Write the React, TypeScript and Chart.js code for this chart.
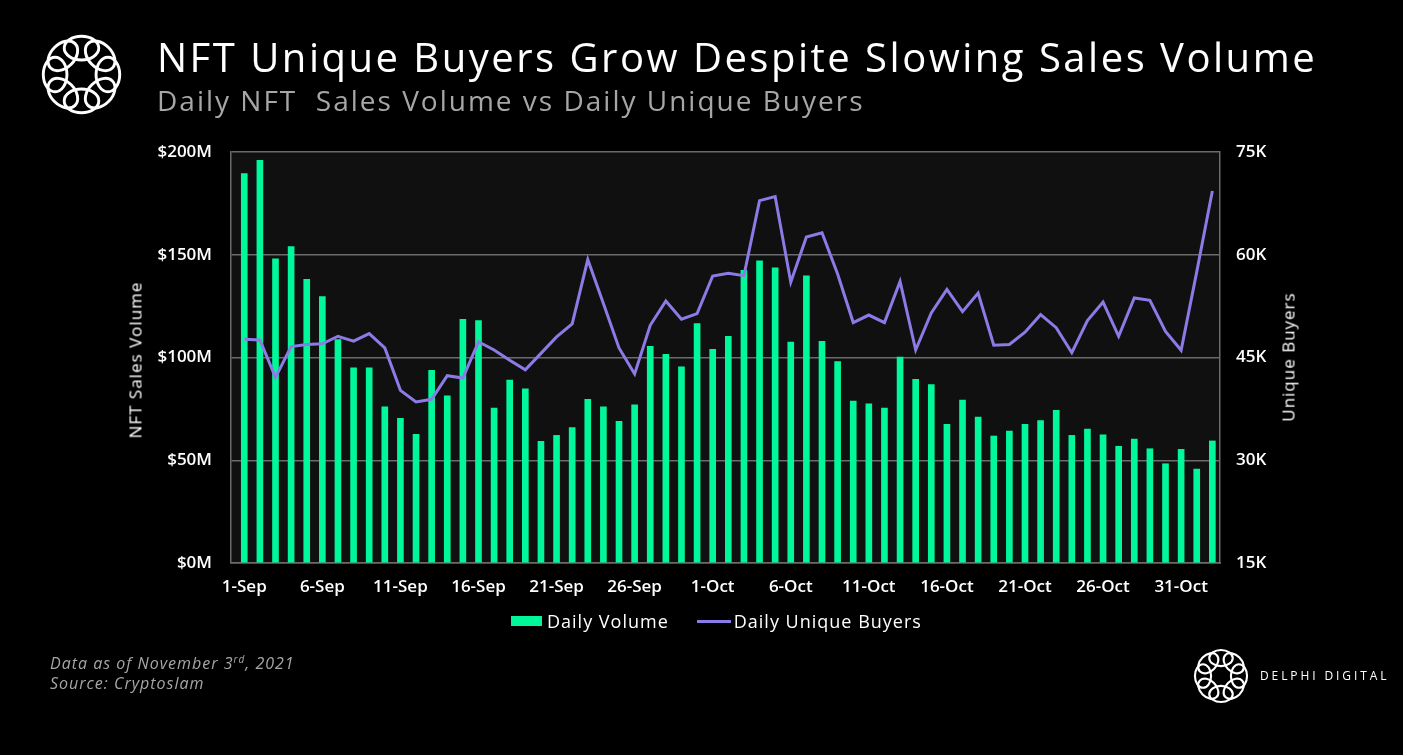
import React, { useEffect, useRef } from "react";
import { Chart, registerables } from "chart.js";

Chart.register(...registerables);

const dates: string[] = [
  "1-Sep", "2-Sep", "3-Sep", "4-Sep", "5-Sep", "6-Sep", "7-Sep", "8-Sep", "9-Sep", "10-Sep",
  "11-Sep", "12-Sep", "13-Sep", "14-Sep", "15-Sep", "16-Sep", "17-Sep", "18-Sep", "19-Sep", "20-Sep",
  "21-Sep", "22-Sep", "23-Sep", "24-Sep", "25-Sep", "26-Sep", "27-Sep", "28-Sep", "29-Sep", "30-Sep",
  "1-Oct", "2-Oct", "3-Oct", "4-Oct", "5-Oct", "6-Oct", "7-Oct", "8-Oct", "9-Oct", "10-Oct",
  "11-Oct", "12-Oct", "13-Oct", "14-Oct", "15-Oct", "16-Oct", "17-Oct", "18-Oct", "19-Oct", "20-Oct",
  "21-Oct", "22-Oct", "23-Oct", "24-Oct", "25-Oct", "26-Oct", "27-Oct", "28-Oct", "29-Oct", "30-Oct",
  "31-Oct", "1-Nov", "2-Nov",
];

// Daily NFT sales volume, $M
const dailyVolume: number[] = [
  189.5, 196, 148, 154, 138, 129.6, 108.7, 95, 95, 76,
  70.4, 62.6, 93.8, 81.4, 118.6, 118, 75.4, 89, 84.7, 59.2,
  62.1, 65.9, 79.6, 76, 69, 77, 105.4, 101.5, 95.4, 116.5,
  104, 110.3, 142.4, 147, 143.6, 107.5, 139.8, 107.9, 98, 78.8,
  77.4, 75.4, 100.2, 89.4, 86.8, 67.5, 79.3, 71, 61.8, 64.2,
  67.5, 69.3, 74.3, 62.1, 65.2, 62.4, 56.8, 60.3, 55.6, 48.3,
  55.3, 45.7, 59.4,
];

// Daily unique buyers, thousands
const uniqueBuyers: number[] = [
  47.65, 47.55, 42.1, 46.6, 46.9, 47.0, 48.1, 47.4, 48.5, 46.4,
  40.2, 38.5, 38.9, 42.35, 42.0, 47.3, 46.1, 44.6, 43.2, 45.6,
  48.0, 49.9, 59.3, 52.9, 46.4, 42.6, 49.7, 53.25, 50.6, 51.4,
  56.9, 57.3, 56.95, 67.9, 68.5, 56.0, 62.6, 63.2, 57.2, 50.1,
  51.2, 50.1, 56.1, 46.1, 51.5, 54.95, 51.7, 54.4, 46.8, 46.9,
  48.7, 51.25, 49.35, 45.7, 50.4, 53.1, 48.1, 53.7, 53.35, 48.8,
  46.05, 57.5, 69.3,
];

const xTicks: number[] = [0, 5, 10, 15, 20, 25, 30, 35, 40, 45, 50, 55, 60];
const volumeTicks: number[] = [0, 50, 100, 150, 200];
const buyerTicks: number[] = [15, 30, 45, 60, 75];

const GREEN = "#00F79A";
const PURPLE = "#8C7BE6";
const GRID = "#6b6b6b";
const FONT = "'Open Sans', 'DejaVu Sans', sans-serif";

const plotBg = {
  id: "plotBg",
  beforeDraw(chart: any) {
    const { ctx, chartArea } = chart;
    ctx.save();
    ctx.fillStyle = "#101010";
    ctx.fillRect(chartArea.left, chartArea.top, chartArea.right - chartArea.left, chartArea.bottom - chartArea.top);
    ctx.restore();
  },
};

function Logo({ size, stroke }: { size: number; stroke: number }) {
  const petals = [0, 45, 90, 135, 180, 225, 270, 315];
  return (
    <svg width={size} height={size} viewBox="0 0 100 100">
      {petals.map((a) => (
        <ellipse
          key={a}
          cx={50}
          cy={21}
          rx={19}
          ry={13}
          fill="none"
          stroke="#fff"
          strokeWidth={stroke}
          transform={`rotate(${a} 50 50)`}
        />
      ))}
    </svg>
  );
}

export default function App() {
  const ref = useRef<HTMLCanvasElement | null>(null);

  useEffect(() => {
    if (!ref.current) return;
    const chart = new Chart(ref.current, {
      type: "bar",
      data: {
        datasets: [
          {
            type: "line",
            label: "Daily Unique Buyers",
            data: uniqueBuyers.map((v, i) => ({ x: i, y: v })),
            yAxisID: "y1",
            borderColor: PURPLE,
            backgroundColor: PURPLE,
            borderWidth: 3,
            pointRadius: 0,
            tension: 0,
            order: 0,
          } as any,
          {
            type: "bar",
            label: "Daily Volume",
            data: dailyVolume.map((v, i) => ({ x: i, y: v })),
            yAxisID: "y",
            backgroundColor: GREEN,
            barThickness: 6,
            order: 1,
          } as any,
        ],
      },
      options: {
        responsive: false,
        animation: false,
        layout: { padding: { left: 151, right: 123, top: 152, bottom: 152 } },
        plugins: { legend: { display: false }, tooltip: { enabled: false } },
        scales: {
          x: {
            type: "linear",
            offset: false,
            min: -0.85,
            max: 62.49,
            afterBuildTicks: (s: any) => {
              s.ticks = xTicks.map((v) => ({ value: v }));
            },
            afterFit: (s: any) => {
              s.height = 40;
            },
            grid: { display: false, offset: false },
            border: { display: true, color: GRID, width: 1.5 },
            ticks: {
              color: "#ffffff",
              padding: 6,
              maxRotation: 0,
              autoSkip: false,
              font: { family: FONT, size: 17, weight: "600" },
              callback: (v: any) => dates[v as number] ?? "",
            },
          },
          y: {
            position: "left",
            min: 0,
            max: 200,
            afterBuildTicks: (s: any) => {
              s.ticks = volumeTicks.map((v) => ({ value: v }));
            },
            afterFit: (s: any) => {
              s.width = 80;
            },
            grid: { color: GRID, lineWidth: 1.5, drawTicks: false },
            border: { display: true, color: GRID, width: 1.5 },
            ticks: {
              color: "#ffffff",
              padding: 19,
              font: { family: FONT, size: 17, weight: "600" },
              callback: (v: any) => `$${v}M`,
            },
          },
          y1: {
            position: "right",
            min: 15,
            max: 75,
            afterBuildTicks: (s: any) => {
              s.ticks = buyerTicks.map((v) => ({ value: v }));
            },
            afterFit: (s: any) => {
              s.width = 60;
            },
            grid: { display: false, drawTicks: false },
            border: { display: true, color: GRID, width: 1.5 },
            ticks: {
              color: "#ffffff",
              padding: 16,
              font: { family: FONT, size: 17, weight: "600" },
              callback: (v: any) => `${v}K`,
            },
          },
        },
      },
      plugins: [plotBg],
    });
    return () => chart.destroy();
  }, []);

  const abs = (s: React.CSSProperties): React.CSSProperties => ({ position: "absolute", ...s });

  return (
    <div
      style={{
        position: "fixed",
        left: 0,
        top: 0,
        width: 1403,
        height: 755,
        background: "#000",
        overflow: "hidden",
        fontFamily: FONT,
      }}
    >
      <canvas ref={ref} width={1403} height={755} style={abs({ left: 0, top: 0, width: 1403, height: 755 })} />
      <div style={abs({ left: 36, top: 29 })}>
        <Logo size={91} stroke={3.2} />
      </div>
      <div style={abs({ left: 157, top: 30, color: "#fff", fontSize: 40, fontWeight: 500, letterSpacing: 2.5, whiteSpace: "nowrap", lineHeight: "54px" })}>
        NFT Unique Buyers Grow Despite Slowing Sales Volume
      </div>
      <div style={abs({ left: 157, top: 82, color: "#a6a6a6", fontSize: 28, fontWeight: 500, letterSpacing: 2, whiteSpace: "pre", lineHeight: "36px" })}>
        {"Daily NFT  Sales Volume vs Daily Unique Buyers"}
      </div>
      <div
        style={abs({
          left: 135,
          top: 360,
          transform: "translate(-50%, -50%) rotate(-90deg)",
          color: "#fff",
          fontSize: 17,
          fontWeight: 500,
          letterSpacing: 1,
          whiteSpace: "nowrap",
        })}
      >
        NFT Sales Volume
      </div>
      <div
        style={abs({
          left: 1288,
          top: 357,
          transform: "translate(-50%, -50%) rotate(-90deg)",
          color: "#fff",
          fontSize: 17,
          fontWeight: 500,
          letterSpacing: 1,
          whiteSpace: "nowrap",
        })}
      >
        Unique Buyers
      </div>
      <div style={abs({ left: 511, top: 607, display: "flex", alignItems: "center", color: "#fff", fontSize: 18, fontWeight: 500, letterSpacing: 1, whiteSpace: "nowrap", height: 28 })}>
        <span style={{ display: "inline-block", width: 31, height: 10, background: GREEN, marginRight: 5 }} />
        <span>Daily Volume</span>
        <span style={{ display: "inline-block", width: 34, height: 3, background: PURPLE, marginLeft: 28, marginRight: 3 }} />
        <span>Daily Unique Buyers</span>
      </div>
      <div style={abs({ left: 50, top: 653, color: "#a6a6a6", fontSize: 16, fontStyle: "italic", letterSpacing: 1, lineHeight: "20px", whiteSpace: "nowrap" })}>
        Data as of November 3<sup style={{ fontSize: 10, lineHeight: 0 }}>rd</sup>, 2021
        <br />
        Source: Cryptoslam
      </div>
      <div style={abs({ left: 1190, top: 645 })}>
        <Logo size={62} stroke={3.4} />
      </div>
      <div style={abs({ left: 1260, top: 667, color: "#fff", fontSize: 12, letterSpacing: 2.9, whiteSpace: "nowrap", lineHeight: "18px" })}>
        DELPHI DIGITAL
      </div>
    </div>
  );
}
